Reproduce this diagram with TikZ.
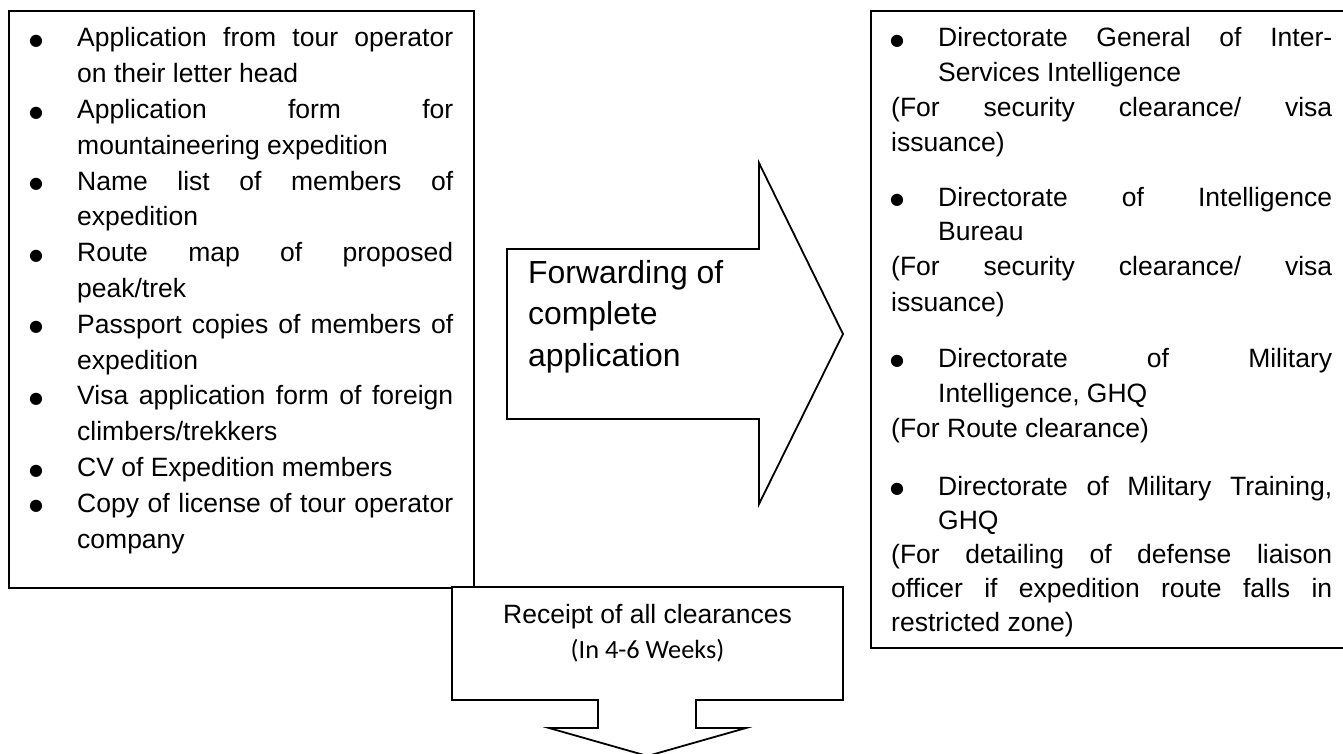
\documentclass[tikz,border=0pt]{standalone}
\usepackage{fontspec}
\setmainfont{Liberation Sans}
\newfontfamily\calib{Carlito}
\newfontfamily\dejavu{DejaVu Sans}
\newlength\bw \newlength\tw \newlength\fw
\newcommand\bul{\hskip-1pt\smash{\raisebox{1.5pt}{\dejavu\fontsize{16}{16}\selectfont ●}}}
\newcommand\BJ[1]{\hbox to\fw{\hbox to\bw{\bul\hfil}\hbox to\tw{#1}}}
\newcommand\BL[1]{\hbox{\hbox to\bw{\bul\hfil}#1}}
\newcommand\IL[1]{\hbox{\hskip\bw #1}}
\newcommand\FJ[1]{\hbox to\fw{#1}}
\newcommand\FL[1]{\hbox{#1}}
\newcommand\txtsetup[2]{\fontsize{26.5}{#1}\selectfont\lineskiplimit=-100pt\relax #2}
\tikzset{
  shapeline/.style={draw=black, line width=1.8pt, fill=white, line join=miter},
  boxnode/.style={draw=black, line width=1.8pt, inner sep=0pt, anchor=north west},
  txt/.style={anchor=base west, inner sep=0pt, align=left}
}
\begin{document}
\begin{tikzpicture}[x=1pt,y=-1pt]
\useasboundingbox (0,0) rectangle (1343,754);
\clip (0,0) rectangle (1343,754);
\fill[white] (0,0) rectangle (1343,754);

% boxes
\node[boxnode, minimum width=465pt, minimum height=577pt] (lbox) at (8,10) {};
\node[boxnode, minimum width=480pt, minimum height=637pt] (rbox) at (870,10) {};

% right arrow
\draw[shapeline] (507,249) -- (759,249) -- (759,163) -- (843,334) -- (759,504) -- (759,419) -- (507,419) -- cycle;
% down arrow
\draw[shapeline] (452,587) -- (843,587) -- (843,700) -- (696,700) -- (696,728) -- (746,728) -- (647.5,756) -- (549,728) -- (598,728) -- (598,700) -- (452,700) -- cycle;

% left text
\node[txt] (ltext) at (30,47) {\setlength\bw{47pt}\setlength\tw{376pt}\setlength\fw{423pt}%
\parbox[t]{423pt}{\txtsetup{35.8pt}{%
\BJ{Application from tour operator}
\IL{on their letter head}
\BJ{Application form for}
\IL{mountaineering expedition}
\BJ{Name list of members of}
\IL{expedition}
\BJ{Route map of proposed}
\IL{peak/trek}
\BJ{Passport copies of members of}
\IL{expedition}
\BJ{Visa application form of foreign}
\IL{climbers/trekkers}
\BL{CV of Expedition members}
\BJ{Copy of license of tour operator}
\IL{company}}}};

% right text
\node[txt] (r1) at (891,47) {\setlength\bw{47pt}\setlength\tw{394pt}\setlength\fw{441pt}%
\parbox[t]{441pt}{\txtsetup{35pt}{%
\BJ{Directorate General of Inter-}
\IL{Services Intelligence}
\FJ{(For security clearance/ visa}
\FL{issuance)}}}};
\node[txt] (r2) at (891,206) {\setlength\bw{47pt}\setlength\tw{394pt}\setlength\fw{441pt}%
\parbox[t]{441pt}{\txtsetup{35pt}{%
\BJ{Directorate of Intelligence}
\IL{Bureau}
\FJ{(For security clearance/ visa}
\FL{issuance)}}}};
\node[txt] (r3) at (891,367) {\setlength\bw{47pt}\setlength\tw{394pt}\setlength\fw{441pt}%
\parbox[t]{441pt}{\txtsetup{35pt}{%
\BJ{Directorate of Military}
\IL{Intelligence, GHQ}
\FL{(For Route clearance)}}}};
\node[txt] (r4) at (891,495) {\setlength\bw{47pt}\setlength\tw{394pt}\setlength\fw{441pt}%
\parbox[t]{441pt}{\txtsetup{34pt}{%
\BJ{Directorate of Military Training,}
\IL{GHQ}
\FJ{(For detailing of defense liaison}
\FJ{officer if expedition route falls in}
\FL{restricted zone)}}}};

% arrow texts
\node[txt] (fwd) at (528,283) {\parbox[t]{250pt}{\fontsize{31.9}{41.5}\selectfont\lineskiplimit=-100pt
\hbox{Forwarding of}
\hbox{complete}
\hbox{application}}};
\node[anchor=base, inner sep=0pt, font=\fontsize{26.5}{30}\selectfont] (rcpt) at (647.5,623) {Receipt of all clearances};
\node[anchor=base, inner sep=0pt, font=\calib\fontsize{26.3}{30}\selectfont] (weeks) at (647.5,658) {(In 4-6 Weeks)};
\end{tikzpicture}
\end{document}
